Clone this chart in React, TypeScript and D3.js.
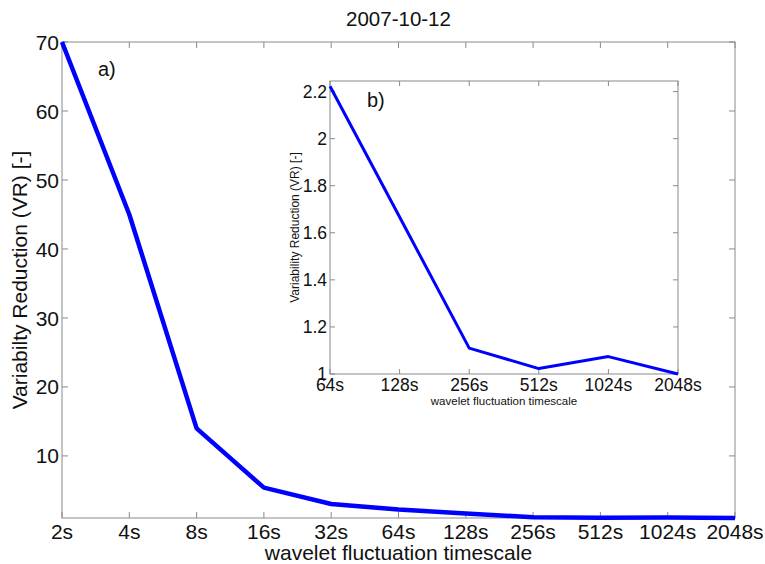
import React, { useEffect, useRef } from "react";
import * as d3 from "d3";

// main panel (a)
const scales = ["2s", "4s", "8s", "16s", "32s", "64s", "128s", "256s", "512s", "1024s", "2048s"];
const vr = [70, 45, 14, 5.4, 3.03, 2.223, 1.667, 1.11, 1.023, 1.074, 1.0];
const yTicks = [10, 20, 30, 40, 50, 60, 70];

// inset (b)
const insetScales = ["64s", "128s", "256s", "512s", "1024s", "2048s"];
const insetVr = [2.223, 1.667, 1.11, 1.023, 1.074, 1.0];
const insetTicks = [1, 1.2, 1.4, 1.6, 1.8, 2, 2.2];

const title = "2007-10-12";
const xTitle = "wavelet fluctuation timescale";

function App() {
  const svgRef = useRef<SVGSVGElement>(null);
  const [width, height] = [765, 564];
  const axisColor = "#8a8a8a";
  const font = "Arial, 'Liberation Sans', sans-serif";

  useEffect(() => {
    const svg = d3.select(svgRef.current);
    svg.selectAll("*").remove();
    svg.append("rect").attr("width", width).attr("height", height).attr("fill", "#fff");

    // Function to draw one boxed panel with ticks on all sides
    const drawPanel = (
      cats: string[],
      vals: number[],
      ticks: number[],
      box: { l: number; r: number; t: number; b: number },
      yDomain: [number, number],
      opt: { tick: number; fs: number; lw: number; labelGap: number; xBase: number; fmt: (d: number) => string }
    ) => {
      const x = d3.scalePoint<string>().domain(cats).range([box.l, box.r]);
      const y = d3.scaleLinear().domain(yDomain).range([box.b, box.t]);
      const g = svg.append("g");

      g.append("rect")
        .attr("x", box.l)
        .attr("y", box.t)
        .attr("width", box.r - box.l)
        .attr("height", box.b - box.t)
        .attr("fill", "#fff")
        .attr("stroke", axisColor)
        .attr("stroke-width", 1);

      // x ticks bottom + top
      cats.forEach((c) => {
        const px = x(c)!;
        g.append("line").attr("x1", px).attr("x2", px).attr("y1", box.b).attr("y2", box.b - opt.tick).attr("stroke", axisColor);
        g.append("line").attr("x1", px).attr("x2", px).attr("y1", box.t).attr("y2", box.t + opt.tick).attr("stroke", axisColor);
        g.append("text")
          .attr("x", px)
          .attr("y", opt.xBase)
          .attr("text-anchor", "middle")
          .attr("font-family", font)
          .attr("font-size", opt.fs)
          .attr("fill", "#111")
          .text(c);
      });

      // y ticks left + right
      ticks.forEach((t) => {
        const py = y(t);
        g.append("line").attr("x1", box.l).attr("x2", box.l + opt.tick).attr("y1", py).attr("y2", py).attr("stroke", axisColor);
        g.append("line").attr("x1", box.r).attr("x2", box.r - opt.tick).attr("y1", py).attr("y2", py).attr("stroke", axisColor);
        g.append("text")
          .attr("x", box.l - opt.labelGap)
          .attr("y", py)
          .attr("dy", "0.36em")
          .attr("text-anchor", "end")
          .attr("font-family", font)
          .attr("font-size", opt.fs)
          .attr("fill", "#111")
          .text(opt.fmt(t));
      });

      const line = d3
        .line<number>()
        .x((d, i) => x(cats[i])!)
        .y((d) => y(d));

      g.append("path")
        .datum(vals)
        .attr("d", line)
        .attr("fill", "none")
        .attr("stroke", "#0000ff")
        .attr("stroke-width", opt.lw)
        .attr("stroke-linejoin", "round");

      return g;
    };

    // main chart
    const main = { l: 62, r: 735, t: 42, b: 518 };
    drawPanel(scales, vr, yTicks, main, [1, 70], {
      tick: 6,
      fs: 21,
      lw: 4.5,
      labelGap: 3,
      xBase: 539,
      fmt: (d) => String(d),
    });

    svg.append("text")
      .attr("x", (main.l + main.r) / 2)
      .attr("y", 26)
      .attr("text-anchor", "middle")
      .attr("font-family", font)
      .attr("font-size", 20.5)
      .attr("fill", "#111")
      .text(title);

    svg.append("text")
      .attr("x", (main.l + main.r) / 2)
      .attr("y", 560)
      .attr("text-anchor", "middle")
      .attr("font-family", font)
      .attr("font-size", 21)
      .attr("fill", "#111")
      .text(xTitle);

    svg.append("text")
      .attr("transform", `translate(27,${(main.t + main.b) / 2}) rotate(-90)`)
      .attr("text-anchor", "middle")
      .attr("font-family", font)
      .attr("font-size", 21)
      .attr("fill", "#111")
      .text("Variabilty Reduction (VR) [-]");

    svg.append("text")
      .attr("x", 98)
      .attr("y", 76)
      .attr("font-family", font)
      .attr("font-size", 20)
      .attr("fill", "#111")
      .text("a)");

    // inset chart
    const inset = { l: 330, r: 678, t: 81, b: 374 };
    drawPanel(insetScales, insetVr, insetTicks, inset, [1, 2.245], {
      tick: 5,
      fs: 17.5,
      lw: 3,
      labelGap: 3,
      xBase: 391,
      fmt: (d) => d3.format("~g")(d),
    });

    svg.append("text")
      .attr("x", (inset.l + inset.r) / 2)
      .attr("y", 405)
      .attr("text-anchor", "middle")
      .attr("font-family", font)
      .attr("font-size", 11.5)
      .attr("fill", "#111")
      .text(xTitle);

    svg.append("text")
      .attr("transform", `translate(299,${(inset.t + inset.b) / 2}) rotate(-90)`)
      .attr("text-anchor", "middle")
      .attr("font-family", font)
      .attr("font-size", 12)
      .attr("fill", "#111")
      .text("Variability Reduction (VR) [-]");

    svg.append("text")
      .attr("x", 367)
      .attr("y", 107)
      .attr("font-family", font)
      .attr("font-size", 20)
      .attr("fill", "#111")
      .text("b)");
  }, []);

  return (
    <div>
      <svg
        ref={svgRef}
        width={width}
        height={height}
        style={{ position: "absolute", left: 0, top: 0, display: "block" }}
      ></svg>
    </div>
  );
}

export default App;
